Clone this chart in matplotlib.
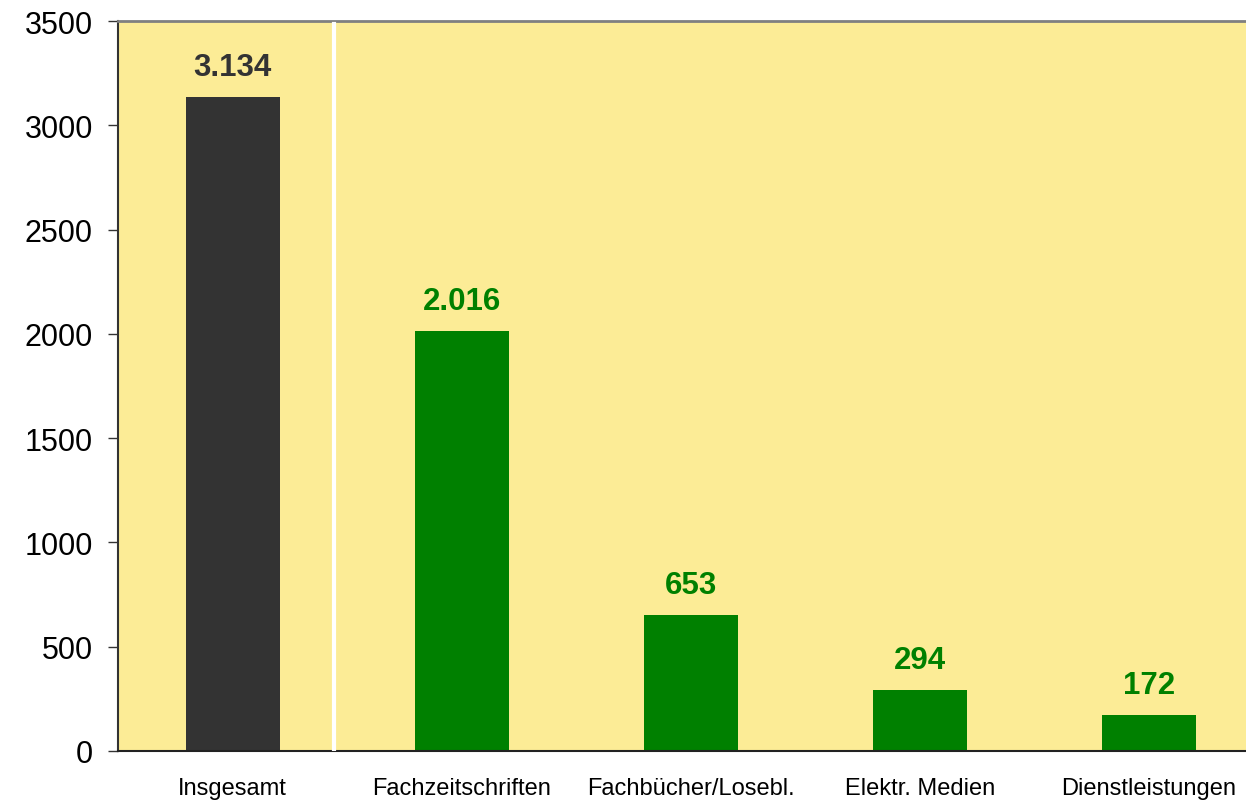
import matplotlib
matplotlib.use("Agg")
import matplotlib.pyplot as plt

categories = ["Insgesamt", "Fachzeitschriften", "Fachbücher/Losebl.", "Elektr. Medien", "Dienstleistungen"]
values = [3134, 2016, 653, 294, 172]
value_labels = ["3.134", "2.016", "653", "294", "172"]
bar_colors = ["#333333", "#008000", "#008000", "#008000", "#008000"]
yticks = [0, 500, 1000, 1500, 2000, 2500, 3000, 3500]

plt.rcParams['font.family'] = ['Liberation Sans', 'DejaVu Sans']

W, H = 1246, 803
fig = plt.figure(figsize=(W / 100, H / 100), dpi=100)
ax = fig.add_axes([118 / W, (H - 752) / H, (W - 118) / W, (752 - 22) / H])
ax.set_facecolor("#FCEC96")

x = list(range(len(categories)))
ax.bar(x, values, width=0.41, color=bar_colors, zorder=2)
for xi, v, lab, c in zip(x, values, value_labels, bar_colors):
    ax.annotate(lab, (xi, v), xytext=(0, 22), textcoords="offset pixels",
                ha="center", va="baseline", fontsize=22.5, fontweight="bold", color=c)

ax.axvline(0.445, ymin=0, ymax=0.996, color="white", lw=3, zorder=3)

ax.set_xlim(-0.5, 4.424)
ax.set_ylim(0, 3500)
ax.set_yticks(yticks)
ax.set_yticklabels([str(t) for t in yticks], fontsize=22)
ax.set_xticks(x)
ax.set_xticklabels(categories, fontsize=17)
ax.tick_params(axis="x", length=0, pad=19)
ax.tick_params(axis="y", length=7.2, width=1, color="#333333", pad=11)

ax.spines["right"].set_visible(False)
ax.spines["top"].set_color("#808080")
ax.spines["top"].set_linewidth(2)
ax.spines["left"].set_color("#333333")
ax.spines["left"].set_linewidth(1.5)
ax.spines["bottom"].set_color("#222222")
ax.spines["bottom"].set_linewidth(1.5)

fig.savefig("out.png", dpi=100)
